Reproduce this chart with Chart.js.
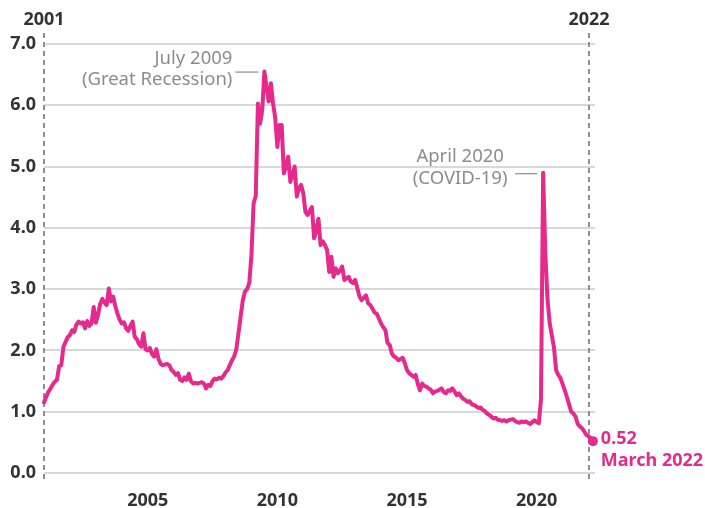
<!DOCTYPE html>
<html><head><meta charset="utf-8">
<script src="https://cdn.jsdelivr.net/npm/chart.js@4.4.1/dist/chart.umd.min.js"></script>
<style>html,body{margin:0;padding:0;background:#fff;}#wrap{width:705px;height:508px;position:relative;}</style>
</head><body><div id="wrap"><canvas id="c" width="705" height="508"></canvas></div>
<script>
// Unemployed persons per job opening, monthly, Jan 2001 - Mar 2022
const startYear = 2001;
const y2001 = [1.15,1.24,1.32,1.38,1.44,1.49,1.52,1.74,1.76,2.06,2.14,2.22];
const y2002 = [2.25,2.33,2.30,2.42,2.47,2.44,2.46,2.36,2.48,2.40,2.44,2.71];
const y2003 = [2.45,2.58,2.76,2.84,2.78,2.74,3.01,2.80,2.88,2.72,2.60,2.50];
const y2004 = [2.44,2.46,2.36,2.32,2.40,2.47,2.22,2.18,2.10,2.06,2.28,2.02];
const y2005 = [2.00,2.04,1.94,1.90,2.02,1.86,1.78,1.76,1.77,1.78,1.76,1.68];
const y2006 = [1.65,1.60,1.63,1.52,1.50,1.56,1.52,1.62,1.50,1.46,1.47,1.46];
const y2007 = [1.47,1.48,1.46,1.38,1.44,1.42,1.50,1.54,1.53,1.55,1.54,1.58];
const y2008 = [1.64,1.68,1.76,1.84,1.90,2.02,2.28,2.55,2.82,2.96,3.00,3.10];
const y2009 = [3.55,4.40,4.52,6.03,5.70,5.92,6.55,6.30,6.06,6.36,6.03,5.80];
const y2010 = [5.32,5.68,5.68,4.89,5.00,5.16,4.75,4.85,5.00,4.51,4.65,4.70];
const y2011 = [4.56,4.26,4.21,4.28,4.34,3.83,3.95,4.15,3.72,3.78,3.72,3.64];
const y2012 = [3.28,3.53,3.20,3.34,3.26,3.30,3.37,3.15,3.18,3.20,3.12,3.10];
const y2013 = [3.15,3.02,2.88,2.82,2.86,2.90,2.77,2.74,2.68,2.62,2.60,2.52];
const y2014 = [2.44,2.38,2.33,2.12,2.09,1.95,1.90,1.88,1.84,1.86,1.88,1.79];
const y2015 = [1.68,1.63,1.60,1.57,1.60,1.45,1.35,1.46,1.42,1.41,1.38,1.36];
const y2016 = [1.30,1.33,1.34,1.36,1.38,1.32,1.30,1.35,1.34,1.38,1.33,1.27];
const y2017 = [1.30,1.25,1.21,1.19,1.16,1.17,1.12,1.11,1.09,1.06,1.07,1.03];
const y2018 = [1.01,0.97,0.95,0.92,0.89,0.90,0.87,0.86,0.85,0.86,0.84,0.86];
const y2019 = [0.87,0.88,0.85,0.83,0.82,0.84,0.83,0.84,0.82,0.80,0.83,0.86];
const y2020 = [0.83,0.81,1.20,4.90,3.60,2.85,2.45,2.25,2.05,1.68,1.60,1.55];
const y2021 = [1.45,1.35,1.24,1.12,1.00,0.97,0.92,0.80,0.76,0.73,0.68,0.62];
const y2022 = [0.60,0.57,0.52];

const values = [].concat(y2001,y2002,y2003,y2004,y2005,y2006,y2007,y2008,y2009,y2010,y2011,
  y2012,y2013,y2014,y2015,y2016,y2017,y2018,y2019,y2020,y2021,y2022);

const yTickValues = [0,1,2,3,4,5,6,7];
const xTickYears = [2005,2010,2015,2020];
const edgeYears = [2001,2022];
const annotMonths = [102, 231];            // July 2009, April 2020 (months since Jan 2001)
const annotTexts = [["July 2009","(Great Recession)"],["April 2020","(COVID-19)"]];
const endValueLabel = "0.52";
const endDateLabel = "March 2022";

const PINK = '#e6298c';
const DARK = '#333333';
const GREY = '#8c8c8c';
const FONT = '"Noto Sans", sans-serif';

const points = values.map((v,i)=>({x:i, y:v}));
const lastIdx = values.length - 1;

const overlay = {
  id:'overlay',
  beforeDatasetsDraw(chart){
    const {ctx, chartArea, scales:{x}} = chart;
    ctx.save();
    ctx.strokeStyle = '#8f8f8f'; ctx.lineWidth = 2; ctx.setLineDash([5,4]);
    ctx.fillStyle = DARK; ctx.font = 'bold 18px ' + FONT;
    ctx.textAlign = 'center'; ctx.textBaseline = 'middle';
    edgeYears.forEach(yr=>{
      const px = Math.round(x.getPixelForValue((yr-startYear)*12));
      ctx.beginPath(); ctx.moveTo(px, chartArea.top-11); ctx.lineTo(px, chartArea.bottom+10); ctx.stroke();
      ctx.fillText(String(yr), px, 20);
    });
    ctx.restore();
  },
  afterDatasetsDraw(chart){
    const {ctx, scales:{x,y}} = chart;
    ctx.save();
    ctx.font = '18.5px ' + FONT; ctx.fillStyle = GREY; ctx.strokeStyle = GREY; ctx.lineWidth = 1.2;
    ctx.textBaseline = 'middle';
    {
      const px = x.getPixelForValue(annotMonths[0]), py = y.getPixelForValue(values[annotMonths[0]]);
      ctx.textAlign = 'right';
      ctx.fillText(annotTexts[0][0], px-32, py-13);
      ctx.fillText(annotTexts[0][1], px-32, py+8);
      ctx.beginPath(); ctx.moveTo(px-29, py+0.5); ctx.lineTo(px-6, py+0.5); ctx.stroke();
    }
    {
      const px = x.getPixelForValue(annotMonths[1]), py = y.getPixelForValue(values[annotMonths[1]]);
      ctx.textAlign = 'center';
      ctx.fillText(annotTexts[1][0], px-83, py-16);
      ctx.fillText(annotTexts[1][1], px-83, py+6);
      ctx.beginPath(); ctx.moveTo(px-28, py+1); ctx.lineTo(px-6, py+1); ctx.stroke();
    }
    const ex = x.getPixelForValue(lastIdx), ey = y.getPixelForValue(values[lastIdx]);
    ctx.fillStyle = PINK; ctx.font = 'bold 18px ' + FONT; ctx.textAlign = 'left';
    ctx.fillText(endValueLabel, ex+8, ey-2);
    ctx.fillText(endDateLabel, ex+8, ey+20);
    ctx.restore();
  }
};

Chart.defaults.font.family = FONT;
new Chart(document.getElementById('c'), {
  type:'line',
  data:{ datasets:[{
    data: points, clip: false,
    borderColor: PINK, backgroundColor: PINK,
    borderWidth: 4, tension: 0, borderJoinStyle:'round', borderCapStyle:'round',
    pointRadius: ctx => ctx.dataIndex === lastIdx ? 5 : 0,
    pointHoverRadius: 0, pointBorderWidth: 0
  }]},
  options:{
    responsive:false, animation:false, events:[],
    layout:{ padding:{ top:44, right:110, left:0, bottom:0 } },
    plugins:{ legend:{display:false}, tooltip:{enabled:false} },
    scales:{
      x:{
        type:'linear', min:0, max:255,
        grid:{ display:false, drawTicks:false }, border:{ display:false },
        afterBuildTicks: s => { s.ticks = xTickYears.map(yr=>({value:(yr-startYear)*12})); },
        afterFit: s => { s.height = 35; },
        ticks:{ autoSkip:false, maxRotation:0, padding:17, color:DARK,
          font:{ size:18, weight:'bold' },
          callback: v => String(startYear + Math.round(v/12)) }
      },
      y:{
        min:0, max:7,
        afterBuildTicks: s => { s.ticks = yTickValues.map(v=>({value:v})); },
        afterFit: s => { s.width = 44; },
        grid:{ color:'#d8d8d8', lineWidth:2, drawTicks:false }, border:{ display:false },
        ticks:{ padding:8, color:DARK, font:{ size:18, weight:'bold' },
          callback: v => Number(v).toFixed(1) }
      }
    }
  },
  plugins:[overlay]
});
</script></body></html>
